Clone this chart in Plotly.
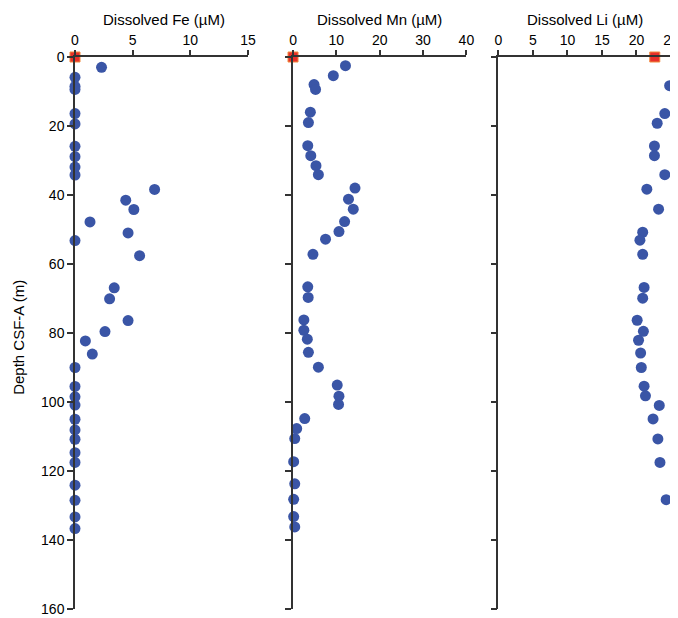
import plotly.graph_objects as go

# ---- data ----
fe_depth = [3.0, 5.9, 8.5, 9.4, 16.4, 19.4, 25.9, 28.9, 31.9, 34.2, 38.4, 41.5, 44.2, 47.8,
            51.0, 53.2, 57.6, 66.9, 70.1, 76.4, 79.6, 82.3, 86.1, 90.0, 95.5, 98.5, 100.9,
            105.0, 108.1, 110.8, 114.7, 117.5, 124.1, 128.5, 133.3, 136.7]
fe_value = [2.3, 0, 0, 0, 0, 0, 0, 0, 0, 0, 6.9, 4.4, 5.1, 1.3,
            4.6, 0, 5.6, 3.4, 3.0, 4.6, 2.6, 0.9, 1.5, 0, 0, 0, 0,
            0, 0, 0, 0, 0, 0, 0, 0, 0]

mn_depth = [2.5, 5.4, 8.0, 9.4, 16.0, 19.0, 25.7, 28.6, 31.5, 34.1, 38.0, 41.2, 44.1, 47.7,
            50.6, 52.8, 57.2, 66.6, 69.7, 76.2, 79.2, 81.8, 85.6, 89.9, 95.1, 98.3, 100.7,
            104.8, 107.7, 110.6, 117.3, 123.7, 128.2, 133.2, 136.2]
mn_value = [12.1, 9.3, 4.85, 5.2, 4.0, 3.55, 3.4, 4.1, 5.3, 5.85, 14.3, 12.8, 13.9, 11.9,
            10.6, 7.5, 4.6, 3.4, 3.5, 2.5, 2.5, 3.3, 3.55, 5.85, 10.2, 10.6, 10.5,
            2.7, 0.85, 0.4, 0.15, 0.4, 0.15, 0.15, 0.4]

li_depth = [8.3, 16.4, 19.2, 25.8, 28.6, 34.1, 38.3, 44.1, 50.8, 53.1, 57.2, 66.8, 69.9,
            76.3, 79.5, 82.1, 85.8, 90.0, 95.4, 98.2, 101.0, 104.9, 110.7, 117.5, 128.3]
li_value = [24.8, 24.1, 23.0, 22.6, 22.6, 24.1, 21.5, 23.2, 20.9, 20.5, 20.9, 21.1, 20.9,
            20.1, 21.0, 20.3, 20.6, 20.7, 21.1, 21.3, 23.3, 22.4, 23.1, 23.4, 24.3]

# seawater reference (red squares)
sw_depth = [0, 0, 0]
sw_value = [0, 0, 22.65]

panel_titles = ["Dissolved Fe (µM)", "Dissolved Mn (µM)", "Dissolved Li (µM)"]
y_title = "Depth CSF-A (m)"
x_ranges = [[0, 15], [0, 40], [0, 25]]
x_dticks = [5, 10, 5]
y_tickvals = [0, 20, 40, 60, 80, 100, 120, 140, 160]

BLUE = "#3a55a6"
RED = "#e8302a"
AXC = "#333333"
FONT = "Liberation Sans, Arial, Helvetica, sans-serif"
FS_TICK = 14
FS_TITLE = 15

fig = go.Figure()
series = [(fe_value, fe_depth), (mn_value, mn_depth), (li_value, li_depth)]
for i, (xv, yv) in enumerate(series):
    xa = "x" if i == 0 else f"x{i+1}"
    ya = "y" if i == 0 else f"y{i+1}"
    fig.add_trace(go.Scatter(x=xv, y=yv, mode="markers", xaxis=xa, yaxis=ya,
                             marker=dict(color=BLUE, size=11, line=dict(width=0)),
                             cliponaxis=False, showlegend=False))
    fig.add_trace(go.Scatter(x=[sw_value[i]], y=[sw_depth[i]], mode="markers", xaxis=xa, yaxis=ya,
                             marker=dict(color=RED, size=10, symbol="square",
                                         line=dict(color="#f08a3c", width=1)),
                             cliponaxis=False, showlegend=False))

domains = [[0.0, 0.2903], [0.3658, 0.6567], [0.7104, 1.0]]
title_x = [0.149, 0.511, 0.855]
for i in range(3):
    xk = "xaxis" if i == 0 else f"xaxis{i+1}"
    yk = "yaxis" if i == 0 else f"yaxis{i+1}"
    ya = "y" if i == 0 else f"y{i+1}"
    xa = "x" if i == 0 else f"x{i+1}"
    fig.layout[xk] = dict(domain=domains[i], anchor=ya, side="top", range=x_ranges[i],
                          dtick=x_dticks[i], tick0=0, showline=True, linecolor=AXC, linewidth=1.5,
                          ticks="outside", ticklen=5, tickwidth=1.5, tickcolor=AXC,
                          showgrid=False, zeroline=False, automargin=False,
                          ticklabeloverflow="allow",
                          tickfont=dict(size=FS_TICK, color="black", family=FONT))
    fig.layout[yk] = dict(domain=[0, 1], anchor=xa, range=[160, 0], tickvals=y_tickvals,
                          showticklabels=(i == 0), showline=True, linecolor=AXC, linewidth=1.5,
                          ticks="outside", ticklen=6, tickwidth=1.5, tickcolor=AXC,
                          showgrid=False, zeroline=False, automargin=False,
                          ticklabeloverflow="allow",
                          tickfont=dict(size=FS_TICK, color="black", family=FONT))
    fig.add_annotation(text=panel_titles[i], xref="paper", yref="paper", x=title_x[i], y=1,
                       xanchor="center", yanchor="middle", yshift=38, showarrow=False,
                       font=dict(size=FS_TITLE, color="black", family=FONT))

fig.add_annotation(text=y_title, xref="paper", yref="paper", x=-0.094, y=0.493,
                   xanchor="center", yanchor="middle", textangle=-90, showarrow=False,
                   font=dict(size=FS_TITLE, color="black", family=FONT))

# page adds an 8px body margin, so the figure is sized to fit inside the window
fig.update_layout(width=670, height=610, margin=dict(l=67, r=7, t=49, b=9),
                  plot_bgcolor="white", paper_bgcolor="white",
                  font=dict(family=FONT, size=FS_TICK, color="black"))

fig.write_html("out.html")
